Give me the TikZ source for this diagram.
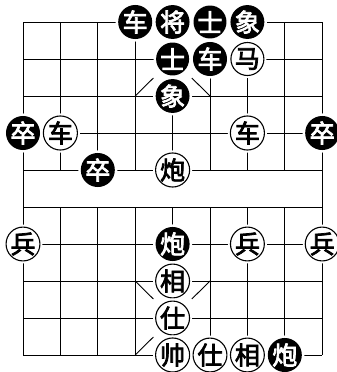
\documentclass[tikz,border=0pt]{standalone}
\usepackage{fontspec}
\newfontfamily\cjk[FakeBold=3]{Noto Sans CJK SC}
\begin{document}
\begin{tikzpicture}[x=1pt,y=-1pt,
  grid/.style={line width=0.9pt,black},
  diag/.style={grid,shorten >=27pt},
  piece/.style={circle,minimum size=31pt,inner sep=0pt,
    font=\cjk\fontsize{25}{25}\selectfont,
    preaction={draw=white,line width=5pt}},
  bp/.style={piece,fill=black,text=white},
  wp/.style={piece,fill=white,draw=black,line width=1.1pt,text=black}]
\useasboundingbox (0,0) rectangle (337,372);
\foreach \c in {0,...,8}{\foreach \r in {0,...,9}{
  \coordinate (p\c\r) at ({23+37.4*\c},{22+37*\r});}}
% horizontal lines
\foreach \r in {0,...,9}{\draw[grid] (p0\r) -- (p8\r);}
% vertical lines
\draw[grid] (p00) -- (p09);
\draw[grid] (p80) -- (p89);
\foreach \c in {1,...,7}{\draw[grid] (p\c0) -- (p\c4); \draw[grid] (p\c5) -- (p\c9);}
% palace diagonals (visible parts)
\draw[diag] (p32) -- (p41);
\draw[diag] (p52) -- (p41);
\draw[diag] (p37) -- (p48);
\draw[diag] (p57) -- (p48);
\draw[diag] (p39) -- (p48);
% black pieces
\node[bp] (k1) at (p30) {车};
\node[bp] (k2) at (p40) {将};
\node[bp] (k3) at (p50) {士};
\node[bp] (k4) at (p60) {象};
\node[bp] (k5) at (p41) {士};
\node[bp] (k6) at (p51) {车};
\node[bp] (k7) at (p42) {象};
\node[bp] (k8) at (p03) {卒};
\node[bp] (k9) at (p83) {卒};
\node[bp] (k10) at (p24) {卒};
\node[bp] (k11) at (p46) {炮};
\node[bp] (k12) at (p79) {炮};
% white pieces
\node[wp] (w1) at (p61) {马};
\node[wp] (w2) at (p13) {车};
\node[wp] (w3) at (p63) {车};
\node[wp] (w4) at (p44) {炮};
\node[wp] (w5) at (p06) {兵};
\node[wp] (w6) at (p66) {兵};
\node[wp] (w7) at (p86) {兵};
\node[wp] (w8) at (p47) {相};
\node[wp] (w9) at (p48) {仕};
\node[wp] (w10) at (p49) {帅};
\node[wp] (w11) at (p59) {仕};
\node[wp] (w12) at (p69) {相};
\end{tikzpicture}
\end{document}
